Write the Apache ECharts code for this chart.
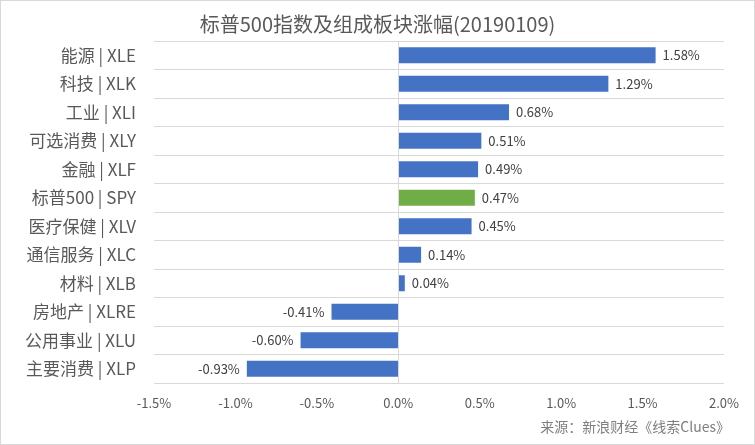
<!DOCTYPE html>
<html><head><meta charset="utf-8">
<script src="https://cdn.jsdelivr.net/npm/echarts@6/dist/echarts.min.js"></script>
<style>
html,body{margin:0;padding:0;background:#fff;}
#c{position:absolute;left:0;top:0;width:753px;height:443px;border:1px solid #d9d9d9;}
</style></head>
<body><div id="c"></div>
<script>
const categories = ['能源 | XLE','科技 | XLK','工业 | XLI','可选消费 | XLY','金融 | XLF','标普500 | SPY','医疗保健 | XLV','通信服务 | XLC','材料 | XLB','房地产 | XLRE','公用事业 | XLU','主要消费 | XLP'];
const values = [1.58, 1.29, 0.68, 0.51, 0.49, 0.47, 0.45, 0.14, 0.04, -0.41, -0.60, -0.93];
const highlight = '标普500 | SPY';
const xTicks = {min: -1.5, max: 2.0, interval: 0.5};
const titleText = '标普500指数及组成板块涨幅(20190109)';
const sourceText = '来源：新浪财经《线索Clues》';

const FONT = '"Noto Sans CJK SC", sans-serif';
const chart = echarts.init(document.getElementById('c'));
const data = values.map((v, i) => ({
  value: v,
  itemStyle: {color: categories[i] === highlight ? '#70AD47' : '#4472C4'},
  label: {position: v >= 0 ? 'right' : 'left'}
}));
chart.setOption({
  animation: false,
  title: {text: titleText, left: 'center', top: 8,
    textStyle: {fontFamily: FONT, fontSize: 20, fontWeight: 'normal', color: '#595959'}},
  grid: {left: 153, right: 30, top: 40, bottom: 61, containLabel: false},
  xAxis: {type: 'value', min: xTicks.min, max: xTicks.max, interval: xTicks.interval,
    axisLine: {show: false}, axisTick: {show: false}, splitLine: {show: false},
    axisLabel: {formatter: v => v.toFixed(1) + '%', fontFamily: FONT, fontSize: 13, color: '#595959', margin: 14}},
  yAxis: {type: 'category', data: categories, inverse: true,
    axisLine: {show: false}, axisTick: {show: false},
    splitLine: {show: true, lineStyle: {color: '#d9d9d9', width: 1}},
    axisLabel: {fontFamily: FONT, fontSize: 17, color: '#595959', margin: 18}},
  series: [{type: 'bar', data: data, barWidth: 16,
    label: {show: true, formatter: p => p.value.toFixed(2) + '%', fontFamily: FONT, fontSize: 13, color: '#404040', distance: 7},
    markLine: {silent: true, symbol: 'none', label: {show: false},
      lineStyle: {color: '#d9d9d9', type: 'solid', width: 1},
      data: [{xAxis: 0}]}
  }],
  graphic: [{type: 'text', right: 24, top: 419,
    style: {text: sourceText, fontFamily: FONT, fontSize: 14, fill: '#7f7f7f'}}]
});
</script></body></html>
